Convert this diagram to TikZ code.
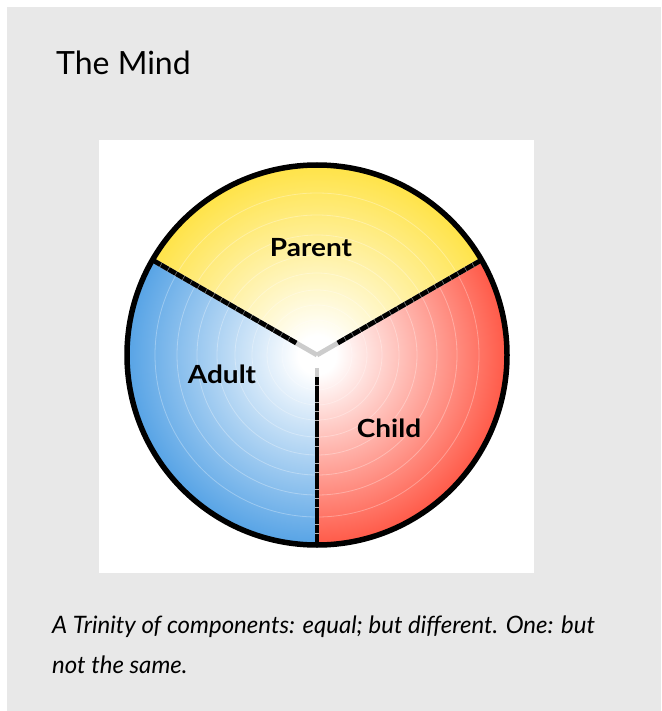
\documentclass[tikz,border=0pt]{standalone}
\usepackage{fontspec}
\setmainfont{Lato}
\pgfdeclareradialshading{parentshade}{\pgfpoint{0bp}{0bp}}{rgb(0bp)=(1,1,1); rgb(2.5bp)=(1,1,1); rgb(25bp)=(1,0.89,0.28); rgb(50bp)=(1,0.89,0.28)}
\pgfdeclareradialshading{adultshade}{\pgfpoint{0bp}{0bp}}{rgb(0bp)=(1,1,1); rgb(2.5bp)=(1,1,1); rgb(25bp)=(0.34,0.64,0.90); rgb(50bp)=(0.34,0.64,0.90)}
\pgfdeclareradialshading{childshade}{\pgfpoint{0bp}{0bp}}{rgb(0bp)=(1,1,1); rgb(2.5bp)=(1,1,1); rgb(25bp)=(1,0.35,0.28); rgb(50bp)=(1,0.35,0.28)}
\definecolor{panel}{HTML}{E8E8E8}
\begin{document}
\begin{tikzpicture}[x=1pt,y=-1pt,
  lbl/.style={font=\fontsize{25}{28}\selectfont\bfseries, inner sep=0pt, anchor=base},
  captext/.style={font=\fontsize{24}{28}\selectfont\itshape, inner sep=0pt, anchor=base west},
  divider/.style={line width=4.8pt, dash pattern=on 8pt off 0.7pt},
  dividerbase/.style={line width=4.8pt, gray!60},
  ring/.style={white, opacity=0.3, line width=0.8pt}]
\useasboundingbox (0,0) rectangle (661,711);
\fill[white] (0,0) rectangle (661,711);
\fill[panel] (7,7) rectangle (661,711);
\fill[white] (99,140) rectangle (534,573);
\node[inner sep=0pt, anchor=base west, font=\fontsize{32}{36}\selectfont] (title) at (56,75) {The Mind};
\begin{scope}[shift={(317,355)}]
  \begin{scope}
    \clip (0,0) -- (-30:300) -- (-90:300) -- (-150:300) -- cycle;
    \shade[shading=parentshade] (0,0) circle (190);
  \end{scope}
  \begin{scope}
    \clip (0,0) -- (-150:300) -- (180:300) -- (90:300) -- cycle;
    \shade[shading=adultshade] (0,0) circle (190);
  \end{scope}
  \begin{scope}
    \clip (0,0) -- (90:300) -- (0:300) -- (-30:300) -- cycle;
    \shade[shading=childshade] (0,0) circle (190);
  \end{scope}
  \foreach \r in {20,35,50,65,82,100,120,140,162}
    \draw[ring] (0,0) circle (\r);
  \draw[dividerbase, gray!40] (0,0) -- (-30:24);
  \draw[dividerbase, gray!40] (0,0) -- (-150:24);
  \draw[dividerbase, gray!40] (90:13) -- (90:22);
  \draw[dividerbase] (-30:24) -- (-30:190);
  \draw[dividerbase] (-150:24) -- (-150:190);
  \draw[dividerbase] (90:22) -- (90:190);
  \draw[divider] (-30:24) -- (-30:190);
  \draw[divider] (-150:24) -- (-150:190);
  \draw[divider] (90:22) -- (90:190);
  \draw[line width=5.5pt] (0,0) circle (190);
\end{scope}
\node[lbl] (parent) at (311,256) {\scalebox{1.12}[1]{Parent}};
\node[lbl] (adult) at (222,383) {\scalebox{1.12}[1]{Adult}};
\node[lbl] (child) at (389,437) {\scalebox{1.12}[1]{Child}};
\node[captext] (cap1) at (52,633) {A Trinity of components: equal; but different. One: but};
\node[captext] (cap2) at (52,673) {not the same.};
\end{tikzpicture}
\end{document}
